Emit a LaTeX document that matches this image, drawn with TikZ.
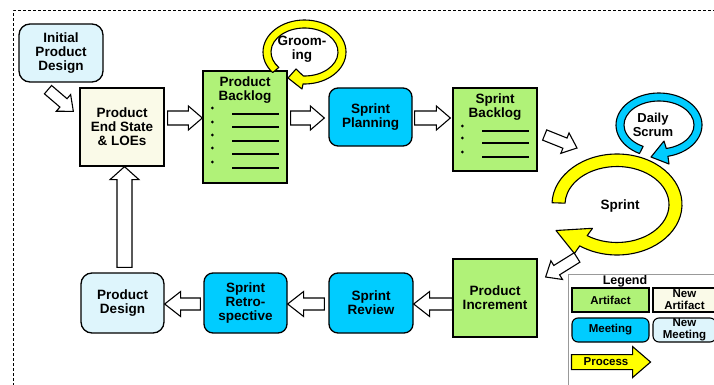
\documentclass[tikz,border=0pt]{standalone}
\usepackage{fontspec}
\setmainfont{Liberation Sans}
\usetikzlibrary{calc}
\definecolor{artgreen}{RGB}{176,242,120}
\definecolor{meetcyan}{RGB}{0,204,255}
\definecolor{newmeet}{RGB}{222,245,252}
\definecolor{newart}{RGB}{250,250,232}
\definecolor{procyel}{RGB}{255,255,0}
\newcommand{\hollowarrow}[6][]{%
  \coordinate (ha-t) at (#2);
  \coordinate (ha-p) at (#3);
  \coordinate (ha-h) at ($(ha-p)!#6!(ha-t)$);
  \draw[blockarrow,#1] ($(ha-t)!#4!90:(ha-p)$) -- ($(ha-h)!#4!90:(ha-p)$) -- ($(ha-h)!#5!90:(ha-p)$) -- (ha-p) -- ($(ha-h)!#5!-90:(ha-p)$) -- ($(ha-h)!#4!-90:(ha-p)$) -- ($(ha-t)!#4!-90:(ha-p)$) -- cycle;
}
\begin{document}
\begin{tikzpicture}[x=1pt,y=-1pt,
  box/.style={draw=black, line width=1.3pt, inner sep=0pt, align=center, font=\bfseries\fontsize{13.5}{14}\selectfont},
  artifact/.style={box, fill=artgreen},
  newartifact/.style={box, fill=newart},
  meeting/.style={box, fill=meetcyan, rounded corners=9pt},
  newmeeting/.style={box, fill=newmeet, rounded corners=11pt},
  lbl/.style={font=\bfseries\fontsize{13.5}{14}\selectfont, align=center, inner sep=0pt},
  legtext/.style={font=\bfseries\fontsize{11.5}{12}\selectfont, line width=1.1pt},
  blockarrow/.style={draw=black, line width=1.1pt, line join=miter, fill=white},
  ring/.style={draw=black, line width=1.1pt, line join=round},
  frame/.style={draw=black, line width=1pt, dash pattern=on 3pt off 2pt}]
\useasboundingbox (0,0) rectangle (714,385);
\clip (0,0) rectangle (714,385);
\draw[frame] (13,386) -- (13,11) -- (716,11);

% boxes
\node[newmeeting, minimum width=84pt, minimum height=58pt] (ipd) at (61,53) {Initial\\Product\\Design};
\node[newartifact, minimum width=84pt, minimum height=78pt] (es) at (122,127) {Product\\End State\\\& LOEs};
\node[artifact, minimum width=84pt, minimum height=112pt] (pb) at (245,127) {};
\node[lbl] (pbt) at ($(pb.north)+(0,20)$) {Product\\Backlog};
\foreach \dy in {-19,-5,8,21,35} \fill ($(pb.west)+(10,\dy)$) circle[radius=1.6pt];
\foreach \dy in {-13,0,14,27,41} \draw[line width=1.2pt] ($(pb.west)+(30,\dy)$) -- ++(47,0);
\node[meeting, minimum width=83pt, minimum height=58pt] (sp) at (370.5,117) {Sprint\\Planning};
\node[artifact, minimum width=84pt, minimum height=83pt] (sb) at (495,129.5) {};
\node[lbl] (sbt) at ($(sb.north)+(0,19.5)$) {Sprint\\Backlog};
\foreach \dy in {-3.5,8.5,22.5} \fill ($(sb.west)+(10,\dy)$) circle[radius=1.6pt];
\foreach \dy in {1.5,13.5,27.5} \draw[line width=1.2pt] ($(sb.west)+(30,\dy)$) -- ++(47,0);
\node[artifact, minimum width=84pt, minimum height=78pt] (pi) at (495,298) {Product\\Increment};
\node[meeting, minimum width=84pt, minimum height=60pt] (sr) at (371,303) {Sprint\\Review};
\node[meeting, minimum width=83pt, minimum height=60pt] (ret) at (245.5,303) {Sprint\\Retro-\\spective};
\node[newmeeting, minimum width=83pt, minimum height=60pt] (pd) at (122.5,303) {Product\\Design};

% loops
\coordinate (gc) at (304.5,52);
\coordinate (sc) at (617,204.5);
\coordinate (dc) at (659,125);
\draw[ring, fill=procyel] ($(gc)+(140:41.5 and 32)$) arc[start angle=140, end angle=452, x radius=41.5, y radius=32]
  -- ($(gc)+(-2.5,37)$) -- ($(gc)+(-16.5,26)$) -- ($(gc)+(-8.5,17)$)
  -- ($(gc)+(452:33.5 and 24)$) arc[start angle=452, end angle=140, x radius=33.5, y radius=24] -- cycle;
\node[lbl] (groom) at (302,49) {Groom-\\ing};
\draw[ring, fill=procyel] ($(sc)+(182:65 and 50.5)$) arc[start angle=182, end angle=485, x radius=65, y radius=50.5]
  -- ($(sc)+(-42.6,49)$) -- ($(sc)+(-61,26)$) -- ($(sc)+(-24.5,23.8)$)
  -- ($(sc)+(485:52 and 38)$) arc[start angle=485, end angle=182, x radius=52, y radius=38] -- cycle;
\node[lbl] (sprint) at (620,206) {Sprint};
\draw[ring, fill=meetcyan] ($(dc)+(117:43 and 32)$) arc[start angle=117, end angle=438, x radius=43, y radius=32]
  -- ($(dc)+(10,39)$) -- ($(dc)+(-8,32)$) -- ($(dc)+(5,16)$)
  -- ($(dc)+(438:35 and 24)$) arc[start angle=438, end angle=117, x radius=35, y radius=24] -- cycle;
\node[lbl, font=\bfseries\fontsize{13}{14}\selectfont] (daily) at (653,125) {Daily\\Scrum};

% connectors
\coordinate (a1t) at ($(ipd.south)+(-13,7)$);
\coordinate (a1h) at ($(es.north west)+(-6,24)$);
\hollowarrow{a1t}{a1h}{5.5pt}{11pt}{13pt}
\coordinate (a2t) at ($(es.east)+(3,-9)$);
\coordinate (a2h) at ($(pb.west)+(0,-9)$);
\hollowarrow{a2t}{a2h}{7pt}{12pt}{14pt}
\coordinate (a3t) at ($(pb.east)+(3,-9)$);
\coordinate (a3h) at ($(sp.west)+(-4,1)$);
\hollowarrow{a3t}{a3h}{7pt}{12pt}{14pt}
\coordinate (a4t) at ($(sp.east)+(2,1)$);
\coordinate (a4h) at ($(sb.west)+(-2,-11.5)$);
\hollowarrow{a4t}{a4h}{7pt}{12pt}{14pt}
\coordinate (a5t) at ($(sb.east)+(7,5.5)$);
\coordinate (a5h) at ($(sc)+(-40,-56.5)$);
\hollowarrow{a5t}{a5h}{5.5pt}{11pt}{13pt}
\coordinate (a6t) at ($(sc)+(-40,53)$);
\coordinate (a6h) at ($(pi.east)+(8,-21)$);
\hollowarrow{a6t}{a6h}{5.5pt}{11pt}{13pt}
\coordinate (a7t) at ($(pi.west)+(0,6)$);
\coordinate (a7h) at ($(sr.east)+(0,1)$);
\hollowarrow{a7t}{a7h}{6pt}{12.5pt}{16pt}
\coordinate (a8t) at ($(sr.west)+(-4,1)$);
\coordinate (a8h) at ($(ret.east)+(0,1)$);
\hollowarrow{a8t}{a8h}{6pt}{12.5pt}{16pt}
\coordinate (a9t) at ($(ret.west)+(-3,1)$);
\coordinate (a9h) at ($(pd.east)+(0,1)$);
\hollowarrow{a9t}{a9h}{6pt}{12.5pt}{16pt}
\coordinate (a10t) at ($(pd.north)+(2,-5)$);
\coordinate (a10h) at ($(es.south)+(2.5,0)$);
\hollowarrow{a10t}{a10h}{7.5pt}{14.5pt}{13pt}

% legend
\draw[draw=gray!80, line width=1pt] (568,386) -- (568,274) -- (716,274);
\node[font=\bfseries\fontsize{12.5}{13}\selectfont, anchor=base, inner sep=0pt] (legt) at (625,284) {\underline{Legend}};
\node[artifact, legtext, minimum width=77pt, minimum height=24pt] (la) at (610.5,300) {Artifact};
\node[newartifact, legtext, minimum width=63pt, minimum height=24pt] (lna) at (684.5,300) {New\\Artifact};
\node[meeting, legtext, rounded corners=6pt, minimum width=77pt, minimum height=24pt] (lm) at (610.5,330) {Meeting};
\node[newmeeting, legtext, rounded corners=6pt, minimum width=63pt, minimum height=24pt] (lnm) at (684.5,330) {New\\Meeting};
\coordinate (lpa) at ($(lm.south west)+(0,19.5)$);
\coordinate (lpb) at ($(lm.south east)+(1,19.5)$);
\hollowarrow[fill=procyel]{lpa}{lpb}{7.5pt}{15.5pt}{18pt}
\node[legtext] (lpt) at (606,362) {Process};
\end{tikzpicture}
\end{document}
